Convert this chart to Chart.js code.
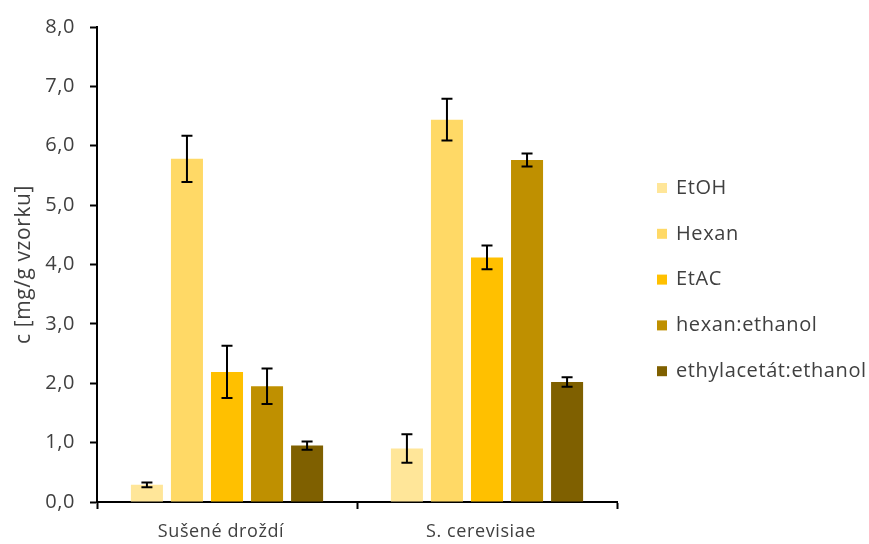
<!DOCTYPE html>
<html>
<head>
<meta charset="utf-8">
<script src="https://cdn.jsdelivr.net/npm/chart.js@4.4.1/dist/chart.umd.min.js"></script>
<style>
  html, body { margin: 0; padding: 0; background: #ffffff; }
  #wrap { width: 869px; height: 544px; }
</style>
</head>
<body>
<div id="wrap"><canvas id="c" width="869" height="544"></canvas></div>
<script>
// Categories (samples) and extraction solvents
const categories = ['Sušené droždí', 'S. cerevisiae'];
const seriesNames = ['EtOH', 'Hexan', 'EtAC', 'hexan:ethanol', 'ethylacetát:ethanol'];
const seriesColors = ['#FFE699', '#FFD966', '#FFC000', '#BF9000', '#7F6000'];

// Concentration c [mg/g vzorku], one array per solvent
const etoh       = [0.29, 0.90];
const hexan      = [5.78, 6.44];
const etac       = [2.19, 4.12];
const hexanEth   = [1.95, 5.76];
const ethylEth   = [0.95, 2.02];

// Standard deviations (error bars)
const etohErr     = [0.04, 0.24];
const hexanErr    = [0.39, 0.35];
const etacErr     = [0.44, 0.20];
const hexanEthErr = [0.30, 0.11];
const ethylEthErr = [0.07, 0.08];

const yTicks = [0, 1, 2, 3, 4, 5, 6, 7, 8];

const values = [etoh, hexan, etac, hexanEth, ethylEth];
const errors = [etohErr, hexanErr, etacErr, hexanEthErr, ethylEthErr];

const FONT = '"Open Sans", Lato, sans-serif';
const TEXT = '#404040';
const SPACING = '0.6px';

// Slightly open letter spacing for all chart text
const textSpacing = {
  id: 'textSpacing',
  beforeUpdate(chart) { chart.ctx.letterSpacing = SPACING; },
  beforeDraw(chart) { chart.ctx.letterSpacing = SPACING; }
};

// Draws the ± error bars on top of each bar
const errorBars = {
  id: 'errorBars',
  afterDatasetsDraw(chart) {
    const ctx = chart.ctx;
    const y = chart.scales.y;
    ctx.save();
    ctx.strokeStyle = '#000000';
    ctx.lineWidth = 2;
    chart.data.datasets.forEach((ds, di) => {
      const meta = chart.getDatasetMeta(di);
      meta.data.forEach((bar, i) => {
        const v = ds.data[i];
        const e = ds.errors[i];
        const x = bar.x;
        const yt = y.getPixelForValue(v + e);
        const yb = y.getPixelForValue(v - e);
        ctx.beginPath();
        ctx.moveTo(x, yt); ctx.lineTo(x, yb);
        ctx.moveTo(x - 5.5, yt); ctx.lineTo(x + 5.5, yt);
        ctx.moveTo(x - 5.5, yb); ctx.lineTo(x + 5.5, yb);
        ctx.stroke();
      });
    });
    ctx.restore();
  }
};

// Legend on the right side: square swatch + label
const sideLegend = {
  id: 'sideLegend',
  afterDraw(chart) {
    const ctx = chart.ctx;
    ctx.save();
    ctx.letterSpacing = SPACING;
    ctx.font = '20px ' + FONT;
    ctx.textBaseline = 'middle';
    ctx.textAlign = 'left';
    chart.data.datasets.forEach((ds, i) => {
      const cy = 188 + i * 45.8;
      ctx.fillStyle = ds.backgroundColor;
      ctx.fillRect(657, cy - 5, 10, 10);
      ctx.fillStyle = TEXT;
      ctx.fillText(ds.label, 676, cy);
    });
    ctx.restore();
  }
};

new Chart(document.getElementById('c'), {
  type: 'bar',
  data: {
    labels: categories,
    datasets: seriesNames.map((name, i) => ({
      label: name,
      data: values[i],
      errors: errors[i],
      backgroundColor: seriesColors[i],
      borderWidth: 0,
      categoryPercentage: 0.77,
      barPercentage: 0.8
    }))
  },
  options: {
    responsive: false,
    animation: false,
    devicePixelRatio: 1,
    layout: { padding: { top: 22, right: 252, left: 11, bottom: 0 } },
    plugins: {
      legend: { display: false },
      tooltip: { enabled: false }
    },
    scales: {
      x: {
        offset: true,
        grid: {
          offset: true,
          drawOnChartArea: false,
          drawTicks: true,
          tickLength: 7,
          tickWidth: 2,
          tickColor: '#000000'
        },
        border: { color: '#000000', width: 2 },
        ticks: { color: TEXT, font: { family: FONT, size: 18 }, padding: 12, labelOffset: -6 },
        afterFit(s) { s.height = 42; }
      },
      y: {
        min: 0,
        max: 8,
        afterBuildTicks(s) { s.ticks = yTicks.map(v => ({ value: v })); },
        grid: {
          drawOnChartArea: false,
          drawTicks: true,
          tickLength: 7,
          tickWidth: 2,
          tickColor: '#000000'
        },
        border: { color: '#000000', width: 2 },
        ticks: {
          color: TEXT,
          font: { family: FONT, size: 20 },
          padding: 15,
          callback: v => v.toFixed(1).replace('.', ',')
        },
        title: {
          display: true,
          text: 'c [mg/g vzorku]',
          color: TEXT,
          font: { family: FONT, size: 21 },
          padding: { top: 0, bottom: 4 }
        },
        afterFit(s) { s.width = 86; }
      }
    }
  },
  plugins: [textSpacing, errorBars, sideLegend]
});
</script>
</body>
</html>
